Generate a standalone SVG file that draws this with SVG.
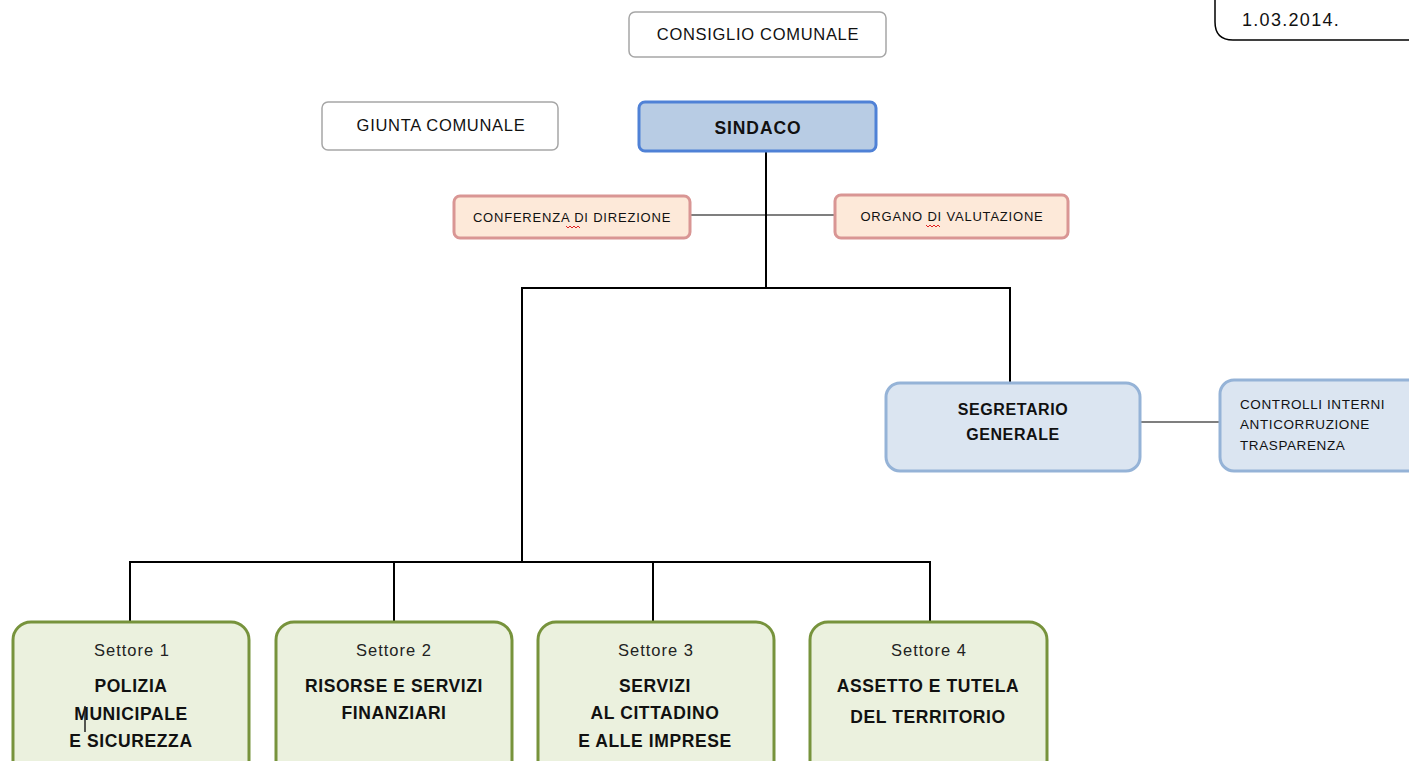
<svg xmlns="http://www.w3.org/2000/svg" width="1409" height="761" viewBox="0 0 1409 761">
<style>
text{font-family:"Liberation Sans",Arial,sans-serif;fill:#111}
.c{text-anchor:middle}
.b{font-weight:bold}
.h{font-size:16.5px;letter-spacing:0.7px}
.s{font-size:13px;letter-spacing:0.8px}
.set{font-size:16.5px;letter-spacing:1px;fill:#222}
.bl{font-size:17.5px;font-weight:bold;letter-spacing:0.6px}
.plain{fill:#fff;stroke:#a6a6a6;stroke-width:1.5}
.red{fill:#fde9d9;stroke:#d99694;stroke-width:3}
.blue{fill:#dbe5f1;stroke:#95b3d7;stroke-width:3}
.sind{fill:#b8cce4;stroke:#4f81d6;stroke-width:3}
.green{fill:#ebf1de;stroke:#77933c;stroke-width:3}
.ln{stroke:#000;stroke-width:2;fill:none}
.thin{stroke:#000;stroke-width:1.2;fill:none}
</style>
<rect width="1409" height="761" fill="#fff"/>
<g id="connectors">
<line class="ln" x1="766" y1="151" x2="766" y2="288"/>
<line class="thin" x1="690" y1="215" x2="835" y2="215"/>
<line class="ln" x1="521" y1="288" x2="1011" y2="288"/>
<line class="ln" x1="1010" y1="288" x2="1010" y2="382"/>
<line class="thin" x1="1140" y1="422" x2="1220" y2="422"/>
<line class="ln" x1="522" y1="288" x2="522" y2="562"/>
<line class="ln" x1="129" y1="562" x2="931" y2="562"/>
<line class="ln" x1="130" y1="562" x2="130" y2="622"/>
<line class="ln" x1="394" y1="562" x2="394" y2="622"/>
<line class="ln" x1="653" y1="562" x2="653" y2="622"/>
<line class="ln" x1="930" y1="562" x2="930" y2="622"/>
</g>
<g id="note">
<path d="M1215,-5 V22 Q1215,40 1233,40 H1415" fill="#fff" stroke="#000" stroke-width="1.5"/>
<text x="1242" y="26" font-size="18" letter-spacing="1.3">1.03.2014.</text>
</g>
<g id="consiglio">
<rect class="plain" x="629" y="12" width="257" height="45" rx="6"/>
<text class="c h" x="758" y="40">CONSIGLIO COMUNALE</text>
</g>
<g id="giunta">
<rect class="plain" x="322" y="102" width="236" height="48" rx="6"/>
<text class="c h" x="441" y="131">GIUNTA COMUNALE</text>
</g>
<g id="sindaco">
<rect class="sind" x="639" y="102" width="237" height="49" rx="6"/>
<text class="c b" x="758" y="134" font-size="17.5" letter-spacing="0.9">SINDACO</text>
</g>
<g id="conferenza">
<rect class="red" x="454" y="196" width="236" height="42" rx="6"/>
<text class="c s" x="572" y="222">CONFERENZA DI DIREZIONE</text>
<path d="M566,226 l2,2 l2,-2 l2,2 l2,-2 l2,2 l2,-2 l2,2" fill="none" stroke="#e02020" stroke-width="1"/>
</g>
<g id="organo">
<rect class="red" x="835" y="195" width="233" height="43" rx="6"/>
<text class="c s" x="952" y="221">ORGANO DI VALUTAZIONE</text>
<path d="M926,225 l2,2 l2,-2 l2,2 l2,-2 l2,2 l2,-2 l2,2" fill="none" stroke="#e02020" stroke-width="1"/>
</g>
<g id="segretario">
<rect class="blue" x="886" y="383" width="254" height="88" rx="14"/>
<text class="c b" x="1013" y="415" font-size="16" letter-spacing="0.6">SEGRETARIO</text>
<text class="c b" x="1013" y="440" font-size="16" letter-spacing="0.6">GENERALE</text>
</g>
<g id="controlli">
<rect class="blue" x="1220" y="380" width="210" height="91" rx="14"/>
<text x="1240" y="409" font-size="13.5" letter-spacing="0.6">CONTROLLI INTERNI</text>
<text x="1240" y="429" font-size="13.5" letter-spacing="0.6">ANTICORRUZIONE</text>
<text x="1240" y="450" font-size="13.5" letter-spacing="0.6">TRASPARENZA</text>
</g>
<g id="settore1">
<rect class="green" x="13" y="622" width="236" height="160" rx="18"/>
<text class="c set" x="132" y="656">Settore 1</text>
<text class="c bl" x="131" y="692">POLIZIA</text>
<text class="c bl" x="131" y="720">MUNICIPALE</text>
<text class="c bl" x="131" y="747">E SICUREZZA</text>
<line x1="85" y1="706" x2="85" y2="732" stroke="#222" stroke-width="1.5"/>
</g>
<g id="settore2">
<rect class="green" x="276" y="622" width="236" height="160" rx="18"/>
<text class="c set" x="394" y="656">Settore 2</text>
<text class="c bl" x="394" y="692">RISORSE E SERVIZI</text>
<text class="c bl" x="394" y="719">FINANZIARI</text>
</g>
<g id="settore3">
<rect class="green" x="538" y="622" width="236" height="160" rx="18"/>
<text class="c set" x="656" y="656">Settore 3</text>
<text class="c bl" x="655" y="692">SERVIZI</text>
<text class="c bl" x="655" y="719">AL CITTADINO</text>
<text class="c bl" x="655" y="747">E ALLE IMPRESE</text>
</g>
<g id="settore4">
<rect class="green" x="810" y="622" width="237" height="160" rx="18"/>
<text class="c set" x="929" y="656">Settore 4</text>
<text class="c bl" x="928" y="692">ASSETTO E TUTELA</text>
<text class="c bl" x="928" y="723">DEL TERRITORIO</text>
</g>
</svg>
